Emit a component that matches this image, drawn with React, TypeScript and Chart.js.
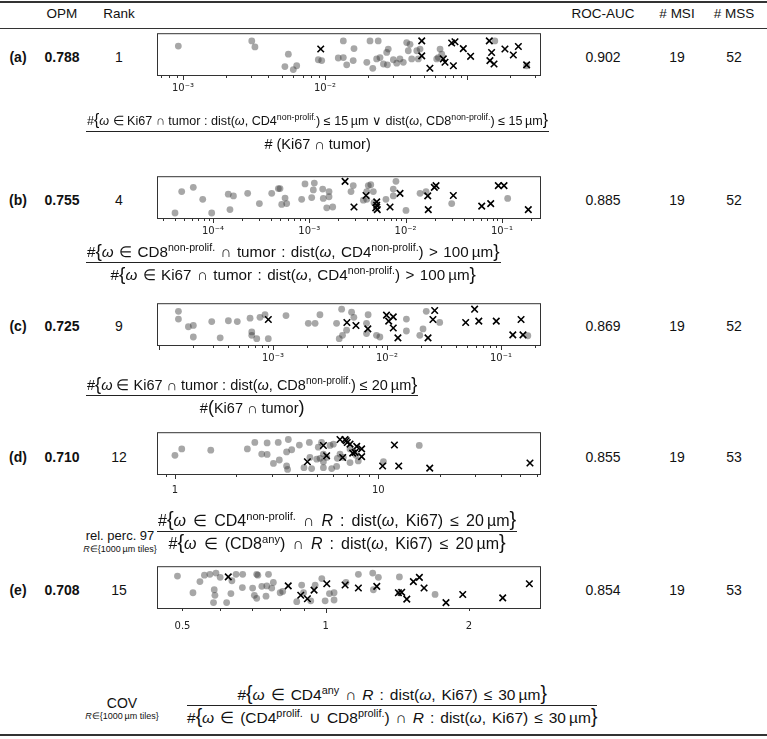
import React, { useEffect, useRef } from "react";
import { Chart, registerables } from "chart.js";
Chart.register(...registerables);

// ---------- table data ----------
const panelLabels = ["(a)", "(b)", "(c)", "(d)", "(e)"];
const opmValues = ["0.788", "0.755", "0.725", "0.710", "0.708"];
const ranks = ["1", "4", "9", "12", "15"];
const rocAuc = ["0.902", "0.885", "0.869", "0.855", "0.854"];
const msiCounts = ["19", "19", "19", "19", "19"];
const mssCounts = ["52", "52", "52", "53", "53"];

// ---------- panel (a) ----------
const aMssX = [9.27e-4,3.05e-3,3.21e-3,5.52e-3,5.22e-3,5.98e-3,6.32e-3,8.97e-3,9.48e-3,0.01346,0.016,0.0124,0.01346,0.01422,0.0158,0.02075,0.0237,0.0279,0.0272,0.0197,0.0217,0.0231,0.0244,0.0258,0.0275,0.0303,0.032,0.0337,0.0356,0.0376,0.0397,0.0386,0.0408,0.0443,0.0454,0.0467,0.0612,0.0646,0.0664,0.0628,0.157,0.263];
const aMssY = [0.70,0.82,0.68,0.51,0.22,0.15,0.24,0.38,0.36,0.82,0.64,0.42,0.43,0.26,0.36,0.82,0.82,0.63,0.55,0.32,0.18,0.40,0.43,0.28,0.26,0.38,0.30,0.40,0.32,0.78,0.74,0.59,0.40,0.59,0.40,0.63,0.40,0.63,0.51,0.43,0.82,0.24];
const aMsiX = [9.33e-3,0.048,0.048,0.0548,0.0681,0.07,0.078,0.0823,0.0942,0.0802,0.106,0.1436,0.149,0.145,0.155,0.185,0.212,0.23,0.263];
const aMsiY = [0.63,0.82,0.47,0.18,0.40,0.32,0.77,0.80,0.64,0.24,0.46,0.82,0.55,0.36,0.28,0.63,0.49,0.69,0.26];
const aRange = [6.56e-4, 0.332];
const aTickValues = [1e-3, 1e-2];
const aTickLabels = ["10⁻³", "10⁻²"];

// ---------- panel (b) ----------
const bMssX = [4.73e-5,6.24e-5,7.82e-5,4.03e-5,9.69e-5,1.44e-4,1.63e-4,1.50e-4,2.29e-4,3.03e-4,4.07e-4,4.77e-4,4.96e-4,5.60e-4,5.17e-4,5.82e-4,8.33e-4,9.02e-4,1.127e-3,1.101e-3,1.059e-3,1.377e-3,1.397e-3,1.602e-3,1.602e-3,1.517e-3,1.75e-3,2.71e-3,2.86e-3,4.10e-3,4.35e-3,3.95e-3,4.62e-3,3.64e-3,3.95e-3,4.70e-3,6.25e-3,7.94e-3,7.45e-3,7.45e-3,0.01009,0.01412,0.0163,0.0301,0.1148];
const bMssY = [0.64,0.74,0.46,0.14,0.14,0.58,0.54,0.22,0.60,0.36,0.60,0.71,0.71,0.49,0.34,0.36,0.46,0.82,0.84,0.68,0.50,0.70,0.48,0.64,0.52,0.26,0.28,0.64,0.78,0.78,0.80,0.64,0.64,0.44,0.46,0.38,0.46,0.88,0.70,0.54,0.20,0.60,0.64,0.36,0.48];
const bMsiX = [2.35e-3,2.91e-3,3.88e-3,5.01e-3,5.01e-3,5.08e-3,6.89e-3,8.75e-3,0.01698,0.0172,0.0207,0.01988,0.0313,0.0617,0.0765,0.0918,0.1052,0.188,4.9e-3];
const bMsiY = [0.88,0.28,0.55,0.40,0.32,0.22,0.28,0.60,0.54,0.22,0.78,0.74,0.55,0.30,0.36,0.78,0.78,0.22,0.26];
const bRange = [2.62e-5, 0.2547];
const bTickValues = [1e-4, 1e-3, 1e-2, 1e-1];
const bTickLabels = ["10⁻⁴", "10⁻³", "10⁻²", "10⁻¹"];

// ---------- panel (c) ----------
const cMssX = [1.48e-4,1.48e-4,1.81e-4,2.0e-4,2.0e-4,2.9e-4,3.44e-4,4.06e-4,4.86e-4,6.29e-4,6.51e-4,6.51e-4,7.2e-4,7.69e-4,8.51e-4,9.09e-4,1.30e-3,2.04e-3,2.34e-3,2.58e-3,3.61e-3,3.81e-3,4.0e-3,4.07e-3,4.42e-3,4.89e-3,5.12e-3,6.61e-3,6.61e-3,6.83e-3,8.09e-3,8.66e-3,0.0148,0.0148,0.0194,0.0207,0.0221,0.029,0.172];
const cMssY = [0.81,0.63,0.45,0.48,0.21,0.57,0.19,0.59,0.57,0.65,0.33,0.25,0.17,0.67,0.73,0.17,0.71,0.53,0.53,0.73,0.53,0.17,0.86,0.25,0.37,0.79,0.67,0.53,0.29,0.73,0.25,0.21,0.63,0.35,0.25,0.40,0.81,0.55,0.24];
const cMsiX = [9.1e-4,4.45e-3,6.79e-3,0.01035,0.01135,0.01135,0.01247,0.0229,0.0253,0.0262,0.049,0.0587,0.0639,0.0909,0.127,0.156,0.150,0.0099,0.00534];
const cMsiY = [0.62,0.55,0.40,0.58,0.68,0.42,0.19,0.19,0.62,0.83,0.55,0.86,0.58,0.58,0.26,0.26,0.62,0.72,0.48];
const cRange = [9.6e-5, 0.2244];
const cTickValues = [1e-3, 1e-2, 1e-1];
const cTickLabels = ["10⁻³", "10⁻²", "10⁻¹"];

// ---------- panel (d) ----------
const dMssX = [1.00,1.08,1.50,2.27,2.47,2.67,2.84,2.84,3.05,3.22,3.26,3.54,3.61,3.58,3.54,3.75,4.09,4.58,4.61,4.70,4.31,4.98,5.07,5.26,5.37,5.37,5.37,5.79,5.90,6.24,6.29,6.48,6.73,7.26,7.26,7.77,7.97,10.6,15.9,5.17,5.57,6.01];
const dMssY = [0.46,0.61,0.58,0.61,0.76,0.49,0.75,0.48,0.27,0.76,0.35,0.54,0.83,0.13,0.21,0.59,0.70,0.76,0.41,0.15,0.17,0.37,0.65,0.76,0.49,0.31,0.17,0.69,0.15,0.20,0.39,0.49,0.41,0.61,0.29,0.46,0.33,0.31,0.69,0.39,0.41,0.72];
const dMsiX = [4.48,5.37,5.57,6.48,6.68,6.86,7.04,7.26,7.48,7.68,7.83,8.28,8.28,10.5,12.0,12.6,17.9,55.7,6.95];
const dMsiY = [0.31,0.69,0.45,0.83,0.41,0.83,0.76,0.72,0.51,0.53,0.67,0.61,0.43,0.21,0.70,0.21,0.16,0.28,0.80];
const dRange = [0.816, 63.1];
const dTickValues = [1, 10];
const dTickLabels = ["1", "10"];

// ---------- panel (e) ----------
const eMssX = [0.488,0.526,0.544,0.556,0.571,0.588,0.600,0.583,0.585,0.581,0.619,0.632,0.635,0.648,0.669,0.668,0.702,0.708,0.716,0.716,0.734,0.758,0.752,0.770,0.776,0.749,0.802,0.812,0.869,0.890,0.898,0.930,0.950,0.981,0.997,1.018,1.041,1.041,1.103,1.171,1.259,1.255,1.290,1.428,1.428,1.697,0.72];
const eMssY = [0.77,0.38,0.64,0.79,0.81,0.84,0.74,0.45,0.32,0.15,0.15,0.36,0.66,0.81,0.81,0.50,0.49,0.32,0.81,0.25,0.53,0.81,0.54,0.49,0.62,0.30,0.38,0.41,0.17,0.56,0.38,0.19,0.56,0.71,0.19,0.36,0.38,0.21,0.62,0.81,0.45,0.84,0.74,0.75,0.38,0.34,0.79];
const eMsiX = [0.624,0.834,0.886,0.915,0.945,1.005,1.098,1.171,1.280,1.421,1.444,1.480,1.528,1.573,1.609,1.789,1.940,2.354,2.678];
const eMsiY = [0.75,0.54,0.32,0.24,0.44,0.59,0.56,0.49,0.53,0.38,0.39,0.23,0.64,0.74,0.49,0.15,0.34,0.26,0.59];
const eRange = [0.442, 2.833];
const eTickValues = [0.5, 1, 2];
const eTickLabels = ["0.5", "1", "2"];

// ---------- layout ----------
const BOX_LEFT = 157;
const BOX_W = 384;
const BOX_H = 43;
const BOX_TOPS = [33, 176, 303, 432, 566];
const ROW_Y = [57, 200, 326, 457, 590];
const TICK_PAD = [6, 6, 6, 9, 11];
const PAD_L = 30, PAD_R = 30, PAD_T = 6, AXIS_H = 34;

const framePlugin = {
  id: "frameTicks",
  afterDraw(chart: any) {
    const { ctx, chartArea } = chart;
    const { left, top, right, bottom } = chartArea;
    ctx.save();
    ctx.strokeStyle = "#333";
    ctx.lineWidth = 1;
    ctx.strokeRect(left + 0.5, top + 0.5, right - left - 1, bottom - top - 1);
    const sc = chart.scales.x;
    ctx.beginPath();
    sc.ticks.forEach((t: any) => {
      const x = Math.round(sc.getPixelForValue(t.value)) + 0.5;
      const len = t.major ? 4 : 2;
      ctx.moveTo(x, bottom);
      ctx.lineTo(x, bottom + len);
    });
    ctx.stroke();
    ctx.restore();
  },
};

function StripPlot(props: any) {
  const { mssX, mssY, msiX, msiY, range, tickValues, tickLabels, top, tickPad } = props;
  const ref = useRef<HTMLCanvasElement | null>(null);
  useEffect(() => {
    if (!ref.current) return;
    const tickObjs: any[] = [];
    const e0 = Math.floor(Math.log10(range[0]));
    const e1 = Math.ceil(Math.log10(range[1]));
    for (let e = e0; e <= e1; e++) {
      for (let k = 1; k <= 9; k++) {
        const v = parseFloat((k * Math.pow(10, e)).toPrecision(6));
        if (v >= range[0] && v <= range[1]) tickObjs.push({ value: v, major: k === 1 });
      }
    }
    const labelFor = (v: number) => {
      for (let i = 0; i < tickValues.length; i++) {
        if (Math.abs(v - tickValues[i]) / tickValues[i] < 1e-6) return tickLabels[i];
      }
      return "";
    };
    const chart = new Chart(ref.current, {
      type: "scatter",
      data: {
        datasets: [
          {
            data: msiX.map((x: number, i: number) => ({ x, y: msiY[i] })),
            pointStyle: "crossRot",
            pointRadius: 4.6,
            borderColor: "#000",
            backgroundColor: "#000",
            borderWidth: 1.6,
          },
          {
            data: mssX.map((x: number, i: number) => ({ x, y: mssY[i] })),
            pointStyle: "circle",
            pointRadius: 3.4,
            backgroundColor: "rgba(60,60,60,0.45)",
            borderWidth: 0,
          },
        ],
      },
      options: {
        responsive: false,
        animation: false,
        events: [],
        layout: { padding: { left: PAD_L, right: PAD_R, top: PAD_T, bottom: 0 } },
        plugins: { legend: { display: false }, tooltip: { enabled: false } },
        scales: {
          x: {
            type: "logarithmic",
            min: range[0],
            max: range[1],
            bounds: "data",
            afterBuildTicks: (s: any) => {
              s.ticks = tickObjs.map((t) => ({ ...t }));
            },
            afterFit: (s: any) => {
              s.height = AXIS_H;
            },
            grid: { display: false, drawTicks: false },
            border: { display: false },
            ticks: {
              autoSkip: false,
              maxRotation: 0,
              padding: tickPad,
              color: "#222",
              font: { family: "DejaVu Sans", size: 10 },
              callback: (v: any) => labelFor(Number(v)),
            },
          },
          y: { display: false, min: 0, max: 1 },
        },
      } as any,
      plugins: [framePlugin],
    });
    return () => chart.destroy();
  }, []);
  return (
    <canvas
      ref={ref}
      width={BOX_W + PAD_L + PAD_R}
      height={PAD_T + BOX_H + AXIS_H}
      style={{ position: "absolute", left: BOX_LEFT - PAD_L, top: top - PAD_T }}
    />
  );
}

const Sup = ({ children }: any) => (
  <sup style={{ fontSize: "0.7em", verticalAlign: "0.55em", lineHeight: 0, wordSpacing: 0 }}>{children}</sup>
);
const LB = () => <span style={{ fontSize: "1.25em", lineHeight: 0, fontWeight: 300 }}>{"{"}</span>;
const RB = () => <span style={{ fontSize: "1.25em", lineHeight: 0, fontWeight: 300 }}>{"}"}</span>;
const BP = ({ c }: any) => <span style={{ fontSize: "1.25em", lineHeight: 0, fontWeight: 300 }}>{c}</span>;
const th = "\u2009";

function Frac({ num, den, left, barY, size, denSize, ws }: any) {
  return (
    <div
      style={{
        position: "absolute",
        left,
        top: barY - 22,
        display: "inline-flex",
        flexDirection: "column",
        alignItems: "center",
        fontSize: size,
        whiteSpace: "nowrap",
        wordSpacing: ws || 0,
      }}
    >
      <div style={{ height: 22, lineHeight: "24px", padding: "0 1px" }}>{num}</div>
      <div style={{ alignSelf: "stretch", height: 1, background: "#222" }} />
      <div style={{ height: 22, lineHeight: "24px", fontSize: denSize || size }}>{den}</div>
    </div>
  );
}

function Op({ name, cx, y, size }: any) {
  return (
    <div style={{ position: "absolute", left: cx - 60, width: 120, top: y - 8, textAlign: "center", whiteSpace: "nowrap" }}>
      <div style={{ fontSize: size, lineHeight: "16px" }}>{name}</div>
      <div style={{ fontSize: 9, lineHeight: "11px" }}>
        <i>R</i>∈{"{"}1000{th}µm tiles{"}"}
      </div>
    </div>
  );
}

function Txt({ x, y, children, bold, size }: any) {
  return (
    <div
      style={{
        position: "absolute",
        left: x,
        top: y,
        transform: "translate(-50%, -50%)",
        whiteSpace: "nowrap",
        fontSize: size || 14,
        fontWeight: bold ? "bold" : "normal",
        lineHeight: 1,
      }}
    >
      {children}
    </div>
  );
}

const panels = [
  { mssX: aMssX, mssY: aMssY, msiX: aMsiX, msiY: aMsiY, range: aRange, tickValues: aTickValues, tickLabels: aTickLabels },
  { mssX: bMssX, mssY: bMssY, msiX: bMsiX, msiY: bMsiY, range: bRange, tickValues: bTickValues, tickLabels: bTickLabels },
  { mssX: cMssX, mssY: cMssY, msiX: cMsiX, msiY: cMsiY, range: cRange, tickValues: cTickValues, tickLabels: cTickLabels },
  { mssX: dMssX, mssY: dMssY, msiX: dMsiX, msiY: dMsiY, range: dRange, tickValues: dTickValues, tickLabels: dTickLabels },
  { mssX: eMssX, mssY: eMssY, msiX: eMsiX, msiY: eMsiY, range: eRange, tickValues: eTickValues, tickLabels: eTickLabels },
];

export default function App() {
  const colX = { label: 18, opm: 62, rank: 119, roc: 603, msi: 677, mss: 734 };
  return (
    <div
      style={{
        position: "absolute",
        left: 0,
        top: 0,
        width: 767,
        height: 739,
        background: "#fff",
        color: "#111",
        fontFamily: "'Liberation Sans', Arial, sans-serif",
        overflow: "hidden",
      }}
    >
      <div style={{ position: "absolute", left: 0, top: 1, width: 767, height: 2, background: "#333" }} />
      <div style={{ position: "absolute", left: 0, top: 28, width: 767, height: 1, background: "#333" }} />
      <div style={{ position: "absolute", left: 0, top: 734, width: 767, height: 2, background: "#333" }} />

      <Txt x={colX.opm} y={14} size={13.5}>OPM</Txt>
      <Txt x={colX.rank} y={14} size={13.5}>Rank</Txt>
      <Txt x={colX.roc} y={14} size={13.5}>ROC-AUC</Txt>
      <Txt x={colX.msi} y={14} size={13.5}># MSI</Txt>
      <Txt x={colX.mss} y={14} size={13.5}># MSS</Txt>

      {panels.map((p, i) => {
        const top = BOX_TOPS[i];
        const cy = ROW_Y[i];
        return (
          <React.Fragment key={i}>
            <Txt x={colX.label} y={cy} bold>{panelLabels[i]}</Txt>
            <Txt x={colX.opm} y={cy} bold>{opmValues[i]}</Txt>
            <Txt x={colX.rank} y={cy}>{ranks[i]}</Txt>
            <Txt x={colX.roc} y={cy}>{rocAuc[i]}</Txt>
            <Txt x={colX.msi} y={cy}>{msiCounts[i]}</Txt>
            <Txt x={colX.mss} y={cy}>{mssCounts[i]}</Txt>
            <StripPlot {...p} top={top} tickPad={TICK_PAD[i]} />
          </React.Fragment>
        );
      })}

      <Frac
        left={86}
        barY={131}
        size={12.6}
        denSize={14.5}
        num={<>#<LB /><i>ω</i> ∈ Ki67 ∩ tumor : dist(<i>ω</i>, CD4<Sup>non-prolif.</Sup>) ≤ 15{th}µm ∨ dist(<i>ω</i>, CD8<Sup>non-prolif.</Sup>) ≤ 15{th}µm<RB /></>}
        den={<># (Ki67 ∩ tumor)</>}
      />
      <Frac
        left={86}
        barY={262}
        size={15.2}
        ws={1.2}
        num={<>#<LB /><i>ω</i> ∈ CD8<Sup>non-prolif.</Sup> ∩ tumor : dist(<i>ω</i>, CD4<Sup>non-prolif.</Sup>) {">"} 100{th}µm<RB /></>}
        den={<>#<LB /><i>ω</i> ∈ Ki67 ∩ tumor : dist(<i>ω</i>, CD4<Sup>non-prolif.</Sup>) {">"} 100{th}µm<RB /></>}
      />
      <Frac
        left={86}
        barY={395}
        size={14.5}
        num={<>#<LB /><i>ω</i> ∈ Ki67 ∩ tumor : dist(<i>ω</i>, CD8<Sup>non-prolif.</Sup>) ≤ 20{th}µm<RB /></>}
        den={<>#<BP c="(" />Ki67 ∩ tumor<BP c=")" /></>}
      />
      <Op name="rel. perc. 97" cx={120} y={536} size={13} />
      <Frac
        left={157}
        barY={531}
        size={16}
        ws={2.6}
        num={<>#<LB /><i>ω</i> ∈ CD4<Sup>non-prolif.</Sup> ∩ <i>R</i> : dist(<i>ω</i>, Ki67) ≤ 20{th}µm<RB /></>}
        den={<>#<LB /><i>ω</i> ∈ (CD8<Sup>any</Sup>) ∩ <i>R</i> : dist(<i>ω</i>, Ki67) ≤ 20{th}µm<RB /></>}
      />
      <Op name="COV" cx={122} y={703} size={14} />
      <Frac
        left={187}
        barY={705}
        size={15.5}
        ws={1.7}
        num={<>#<LB /><i>ω</i> ∈ CD4<Sup>any</Sup> ∩ <i>R</i> : dist(<i>ω</i>, Ki67) ≤ 30{th}µm<RB /></>}
        den={<>#<LB /><i>ω</i> ∈ (CD4<Sup>prolif.</Sup> ∪ CD8<Sup>prolif.</Sup>) ∩ <i>R</i> : dist(<i>ω</i>, Ki67) ≤ 30{th}µm<RB /></>}
      />
    </div>
  );
}
